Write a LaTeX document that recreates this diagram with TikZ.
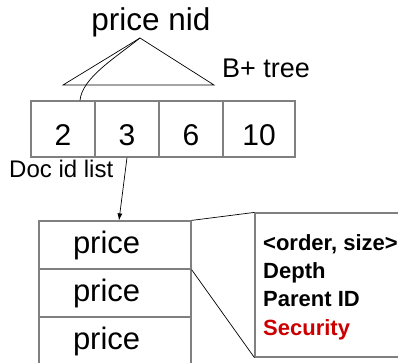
\documentclass[tikz,border=0pt]{standalone}
\usepackage{fontspec}
\setmainfont{Liberation Sans}
\usepackage{tikz}
\usetikzlibrary{arrows.meta}
\definecolor{cellline}{rgb}{0.5,0.5,0.5}
\definecolor{secred}{rgb}{0.8,0.0,0.0}

\begin{document}
\begin{tikzpicture}[x=1pt, y=-1pt,
    cell/.style={rectangle, draw=cellline, line width=1.2pt, inner sep=0pt, minimum height=56pt, font=\fontsize{30}{36}\selectfont, text height=32pt, text depth=0pt},
    rowbox/.style={rectangle, draw=cellline, line width=1.2pt, inner sep=0pt, minimum width=152pt, minimum height=48pt, text width=84pt, align=left, font=\fontsize{31}{37}\selectfont},
    txt/.style={inner sep=0pt},
    field/.style={anchor=base west, inner sep=0pt, font=\fontsize{22}{26}\selectfont\bfseries},
    thin/.style={black, line width=0.7pt},
    arrow/.style={-{Latex[length=7pt, width=5pt]}, thin}
]
\useasboundingbox (0,0) rectangle (398,362);

% tree on top
\node[txt, anchor=base, font=\fontsize{31.5}{37}\selectfont] (title) at (151,30) {price nid};
\coordinate (apex) at (140,38);
\coordinate (baseL) at (63,85);
\coordinate (baseR) at (214,85);
\draw[thin] (baseL) -- (apex) -- (baseR) -- cycle;
\node[txt, anchor=base west, font=\fontsize{27}{32}\selectfont] (btree) at (222,77) {B+ tree};

% leaf entries
\node[cell, minimum width=64pt] (c2) at (63,129) {2};
\node[cell, minimum width=64pt] (c3) at (127,129) {3};
\node[cell, minimum width=64pt] (c6) at (191,129) {6};
\node[cell, minimum width=72pt] (c10) at (259,129) {10};
\draw[thin] (apex) .. controls (115,58) and (82,78) .. ([xshift=17pt]c2.north);

\node[txt, anchor=base west, font=\fontsize{24}{29}\selectfont] (docid) at (9,177) {Doc id list};

% node records
\node[rowbox] (r1) at (115,245) {price};
\node[rowbox] (r2) at (115,293) {price};
\node[rowbox] (r3) at (115,341) {price};
\draw[arrow] (c3.south) -- ([xshift=4pt]r1.north);

% record detail
\node[rectangle, draw=cellline, line width=1.2pt, minimum width=165pt, minimum height=144pt] (meta) at (337.5,285) {};
\draw[thin] (r1.north east) -- (meta.north west);
\draw[thin] (r1.south east) -- (meta.south west);

\node[field] (order) at (263,250) {<order, size>};
\node[field] (depth) at (263,278) {Depth};
\node[field] (parent) at (263,306) {Parent ID};
\node[field, text=secred] (security) at (263,335) {Security};

\end{tikzpicture}
\end{document}
